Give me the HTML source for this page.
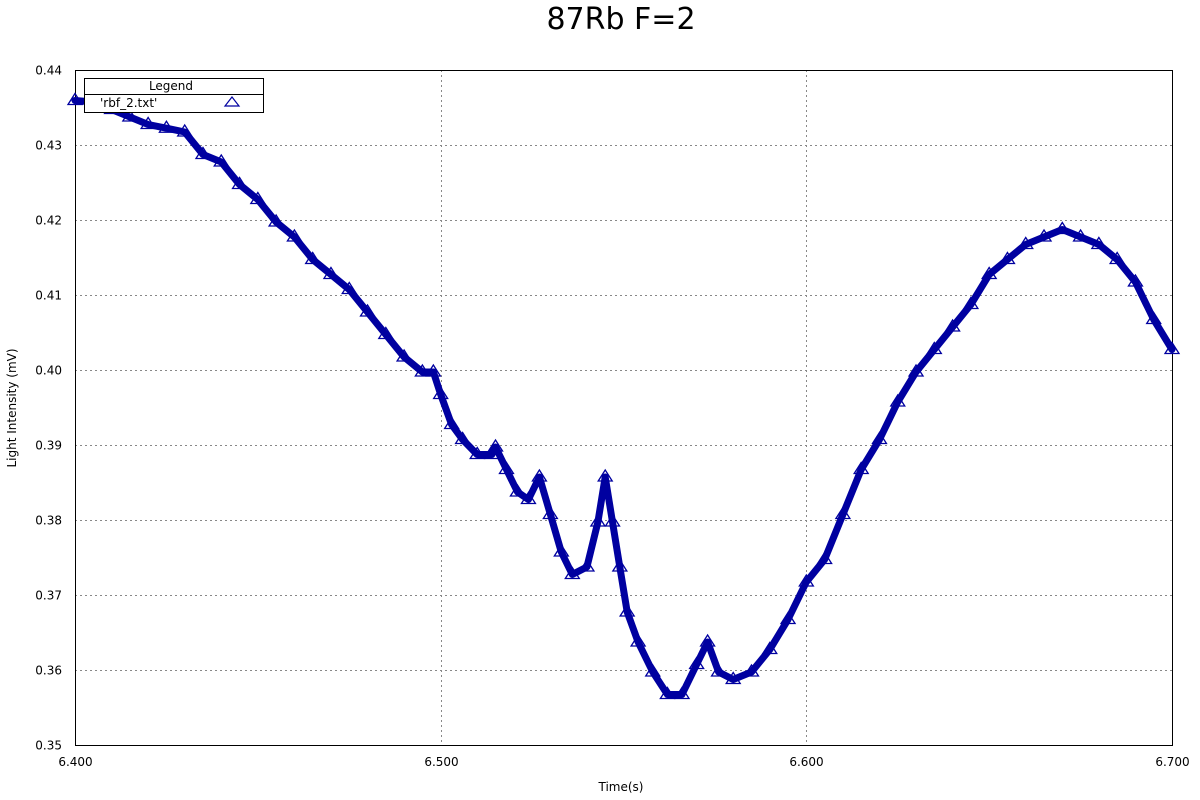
<!DOCTYPE html>
<html><head><meta charset="utf-8"><style>
html,body{margin:0;padding:0;background:#fff;}
svg{display:block;font-family:"DejaVu Sans","Liberation Sans",sans-serif;}
</style></head><body>
<svg id="chart" width="1200" height="800">
<text x="621" y="29" font-size="30" text-anchor="middle">87Rb F=2</text>
<g id="grid"></g>
<g id="ticks"></g>
<rect x="75.5" y="70.5" width="1097" height="675" fill="none" stroke="#000" stroke-width="1"/>
<g id="series"></g>
<text x="16" y="408" font-size="12" text-anchor="middle" transform="rotate(-90 16 408)">Light Intensity (mV)</text>
<text x="621" y="791" font-size="12" text-anchor="middle">Time(s)</text>
<g>
<rect x="84.5" y="78.5" width="179" height="34" fill="#fff" stroke="#000"/>
<line x1="84.5" y1="94.5" x2="263.5" y2="94.5" stroke="#000"/>
<text x="171" y="90" font-size="12" text-anchor="middle">Legend</text>
<text x="100" y="107" font-size="12">'rbf_2.txt'</text>
<path d="M232,97 L239,106 L225,106 Z" fill="none" stroke="#0000a0" stroke-width="1.2"/>
</g>
</svg>
<script>
const times=[6.400,6.405,6.410,6.415,6.420,6.425,6.430,6.435,6.440,6.445,6.450,6.455,6.460,6.465,6.470,6.475,6.480,6.485,6.490,6.495,6.498,6.500,6.503,6.506,6.510,6.514,6.515,6.518,6.521,6.524,6.527,6.530,6.533,6.536,6.540,6.543,6.545,6.547,6.549,6.551,6.554,6.558,6.562,6.566,6.570,6.573,6.576,6.580,6.585,6.590,6.595,6.600,6.605,6.610,6.615,6.620,6.625,6.630,6.635,6.640,6.645,6.650,6.655,6.660,6.665,6.670,6.675,6.680,6.685,6.690,6.695,6.700];
const values=[0.4362,0.436,0.435,0.434,0.433,0.4325,0.432,0.429,0.428,0.425,0.423,0.420,0.418,0.415,0.413,0.411,0.408,0.405,0.402,0.400,0.400,0.397,0.393,0.391,0.389,0.389,0.390,0.387,0.384,0.383,0.386,0.381,0.376,0.373,0.374,0.380,0.386,0.380,0.374,0.368,0.364,0.360,0.357,0.357,0.361,0.364,0.360,0.359,0.360,0.363,0.367,0.372,0.375,0.381,0.387,0.391,0.396,0.400,0.403,0.406,0.409,0.413,0.415,0.417,0.418,0.419,0.418,0.417,0.415,0.412,0.407,0.403];
const xTicks=[6.4,6.5,6.6,6.7];
const xTickLabels=["6.400","6.500","6.600","6.700"];
const yTicks=[0.35,0.36,0.37,0.38,0.39,0.40,0.41,0.42,0.43,0.44];
const yTickLabels=["0.35","0.36","0.37","0.38","0.39","0.40","0.41","0.42","0.43","0.44"];
const NS="http://www.w3.org/2000/svg";
const X=t=>75+(t-6.4)/0.3*1097;
const Y=v=>745-(v-0.35)/0.09*675;
function mk(tag,attrs,parent){const e=document.createElementNS(NS,tag);for(const k in attrs)e.setAttribute(k,attrs[k]);parent.appendChild(e);return e;}
const grid=document.getElementById('grid'),ticks=document.getElementById('ticks'),series=document.getElementById('series');
xTicks.forEach((t,i)=>{
  const x=Math.round(X(t))+0.5;
  if(i>0&&i<xTicks.length-1){const g=mk('line',{x1:x,y1:70,x2:x,y2:745,stroke:'#888','stroke-dasharray':'2,3'},grid);
  
  }
  const tx=mk('text',{x:x,y:766,'font-size':12,'text-anchor':'middle'},ticks);tx.textContent=xTickLabels[i];
  
  
});
yTicks.forEach((v,i)=>{
  const y=Math.round(Y(v))+0.5;
  if(i>0&&i<yTicks.length-1){const g=mk('line',{x1:75,y1:y,x2:1172,y2:y,stroke:'#888','stroke-dasharray':'2,3'},grid);
  
  }
  const tx=mk('text',{x:62,y:y+4,'font-size':12,'text-anchor':'end'},ticks);tx.textContent=yTickLabels[i];
  
  
});
const pts=times.map((t,i)=>X(t).toFixed(1)+','+(Y(values[i])+2).toFixed(1)).join(' ');
const pl=mk('polyline',{points:pts,fill:'none',stroke:'#0000a0','stroke-width':7,'stroke-linejoin':'round','stroke-linecap':'round'},series);


times.forEach((t,i)=>{
  const x=X(t),y=Y(values[i]);
  const p=mk('path',{d:`M${x},${y-5} L${x+7},${y+6} L${x-7},${y+6} Z`,fill:'none',stroke:'#0000a0','stroke-width':1.3},series);
  
  
});
</script>
</body></html>
